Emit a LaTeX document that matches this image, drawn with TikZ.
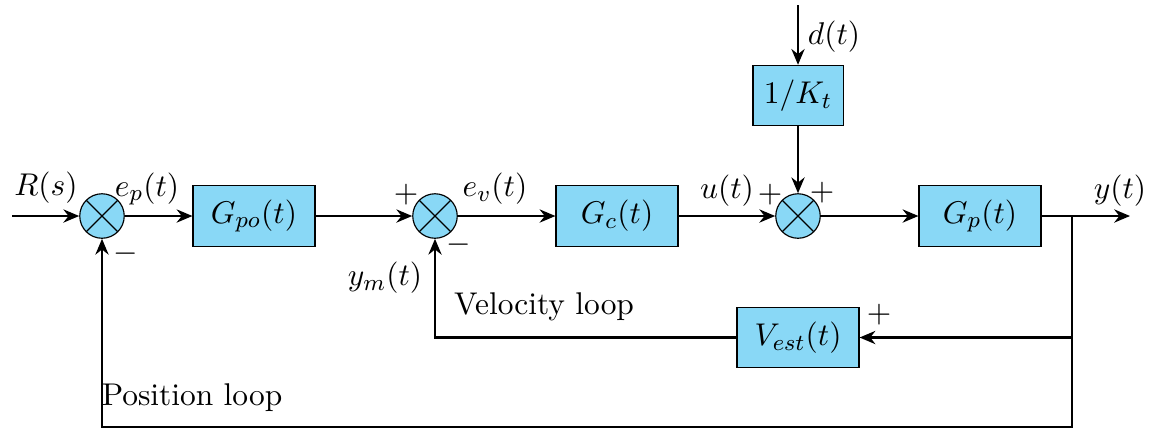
\documentclass[tikz,border=0pt,11pt]{standalone}
\usetikzlibrary{arrows.meta}
\definecolor{boxblue}{RGB}{137,216,246}
\begin{document}
\begin{tikzpicture}[x=0.3484pt,y=-0.3484pt,
  blockbox/.style={draw, fill=boxblue, minimum width=42.5pt, minimum height=21pt, inner sep=0pt},
  sumnode/.style={draw, circle, fill=boxblue, minimum size=15.5pt, inner sep=0pt,
    path picture={\draw (path picture bounding box.north west)--(path picture bounding box.south east)
                        (path picture bounding box.north east)--(path picture bounding box.south west);}},
  sig/.style={thick, -{Stealth[length=5.5pt,width=4.6pt]}},
  wire/.style={thick},
  lbl/.style={inner sep=0pt}]
\useasboundingbox (0,0) rectangle (1155,429);
% blocks
\node[sumnode] (s1) at (102,216) {};
\node[blockbox] (gpo) at (254,216) {$G_{po}(t)$};
\node[sumnode] (s2) at (435,216) {};
\node[blockbox] (gc) at (617,216) {$G_c(t)$};
\node[sumnode] (s3) at (798,216) {};
\node[blockbox, minimum width=31.4pt] (kt) at (798,95.5) {$1/K_t$};
\node[blockbox] (gp) at (980,216) {$G_p(t)$};
\node[blockbox] (vest) at (798,337.5) {$V_{est}(t)$};
% free ends
\coordinate (in) at (12,216);
\coordinate (dist) at (798,5);
\coordinate (out) at (1130,216);
\coordinate (br) at (1072,216);
\coordinate (brv) at (1072,337.5);
\coordinate (brb) at (1072,427);
% connectors
\draw[sig] (in) -- (s1);
\draw[sig] (s1) -- (gpo);
\draw[sig] (gpo) -- (s2);
\draw[sig] (s2) -- (gc);
\draw[sig] (gc) -- (s3);
\draw[sig] (s3) -- (gp);
\draw[sig] (dist) -- (kt);
\draw[sig] (kt) -- (s3);
\draw[sig] (gp) -- (out);
\draw[sig] (br) -- (brb) -| (s1.south);
\draw[sig] (brv) -- (vest);
\draw[sig] (vest.west) -| (s2.south);
% labels
\node[lbl] (lR) at (46,188) {$R(s)$};
\node[lbl] (lep) at (147,189) {$e_p(t)$};
\node[lbl] (m1) at (126,254) {$-$};
\node[lbl] (p2) at (406,195) {$+$};
\node[lbl] (m2) at (459,245) {$-$};
\node[lbl] (lev) at (495,189) {$e_v(t)$};
\node[lbl] (lu) at (727,191) {$u(t)$};
\node[lbl] (p3a) at (770,195) {$+$};
\node[lbl] (p3b) at (822,193) {$+$};
\node[lbl] (ld) at (834,37) {$d(t)$};
\node[lbl] (ly) at (1120,191) {$y(t)$};
\node[lbl] (lym) at (385,278) {$y_m(t)$};
\node[lbl] (lvel) at (544,307) {Velocity loop};
\node[lbl] (p4) at (879,315) {$+$};
\node[lbl] (lpos) at (192,398) {Position loop};
\end{tikzpicture}
\end{document}
